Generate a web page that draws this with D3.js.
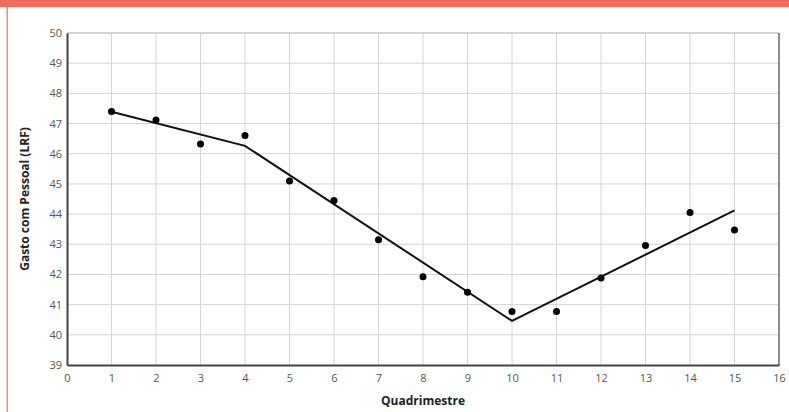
<!DOCTYPE html>
<html>
<head>
<meta charset="utf-8">
<script src="https://cdn.jsdelivr.net/npm/d3@7"></script>
<style>
  body { margin: 0; background: #fff; }
  svg { display: block; }
  .tick text { font-family: "Open Sans", sans-serif; font-size: 11px; fill: #555; }
  .title { font-family: "Open Sans", sans-serif; font-size: 12px; font-weight: bold; fill: #222; }
</style>
</head>
<body>
<script>
// observed values per quadrimestre
const quadrimestres = [1, 2, 3, 4, 5, 6, 7, 8, 9, 10, 11, 12, 13, 14, 15];
const gasto = [47.4, 47.12, 46.32, 46.6, 45.1, 44.45, 43.15, 41.92, 41.41, 40.77, 40.77, 41.88, 42.96, 44.05, 43.47];

// fitted piecewise line (breakpoints)
const fitX = [1, 4, 10, 15];
const fitY = [47.39, 46.26, 40.46, 44.12];

const xTicks = d3.range(0, 17);
const yTicks = d3.range(39, 51);

const width = 789, height = 412;
const margin = { left: 67, right: 10, top: 33, bottom: 47 };

const svg = d3.select("body").append("svg")
    .attr("width", width).attr("height", height);

// salmon header bar and left border
svg.append("rect").attr("x", 0).attr("y", 0).attr("width", width).attr("height", 7)
    .attr("fill", "#ee6b5b");
svg.append("rect").attr("x", 6.5).attr("y", 7).attr("width", 1.5).attr("height", height - 7)
    .attr("fill", "#f08a80");

const x = d3.scaleLinear().domain([0, 16]).range([margin.left, width - margin.right]);
const y = d3.scaleLinear().domain([39, 50]).range([height - margin.bottom, margin.top]);

// grid
svg.append("g").selectAll("line").data(xTicks.slice(1, -1)).join("line")
    .attr("x1", d => x(d)).attr("x2", d => x(d))
    .attr("y1", y(39)).attr("y2", y(50))
    .attr("stroke", "#d4d4d4").attr("stroke-width", 1);
svg.append("g").selectAll("line").data(yTicks.slice(1, -1)).join("line")
    .attr("x1", x(0)).attr("x2", x(16))
    .attr("y1", d => y(d)).attr("y2", d => y(d))
    .attr("stroke", "#d4d4d4").attr("stroke-width", 1);

// frame
svg.append("line").attr("x1", x(0)).attr("x2", x(16)).attr("y1", y(50)).attr("y2", y(50))
    .attr("stroke", "#aaa");
svg.append("line").attr("x1", x(16)).attr("x2", x(16)).attr("y1", y(50)).attr("y2", y(39))
    .attr("stroke", "#666").attr("stroke-width", 1.5);

// axes
const xAxis = svg.append("g").attr("transform", `translate(0,${y(39)})`)
    .call(d3.axisBottom(x).tickValues(xTicks).tickSize(0).tickPadding(9));
xAxis.select(".domain").attr("stroke", "#444").attr("stroke-width", 2);

const yAxis = svg.append("g").attr("transform", `translate(${x(0)},0)`)
    .call(d3.axisLeft(y).tickValues(yTicks).tickSize(0).tickPadding(5));
yAxis.select(".domain").attr("stroke", "#444").attr("stroke-width", 2);

// axis titles
svg.append("text").attr("class", "title")
    .attr("x", x(8)).attr("y", 405).attr("text-anchor", "middle")
    .text("Quadrimestre");
svg.append("text").attr("class", "title")
    .attr("transform", `translate(29,${(y(39) + y(50)) / 2}) rotate(-90)`)
    .attr("text-anchor", "middle")
    .text("Gasto com Pessoal (LRF)");

// fitted line
const line = d3.line().x(d => x(d[0])).y(d => y(d[1]));
svg.append("path").datum(d3.zip(fitX, fitY))
    .attr("d", line).attr("fill", "none")
    .attr("stroke", "#111").attr("stroke-width", 2);

// points
svg.append("g").selectAll("circle").data(d3.zip(quadrimestres, gasto)).join("circle")
    .attr("cx", d => x(d[0])).attr("cy", d => y(d[1]))
    .attr("r", 3.5).attr("fill", "#000");
</script>
</body>
</html>
